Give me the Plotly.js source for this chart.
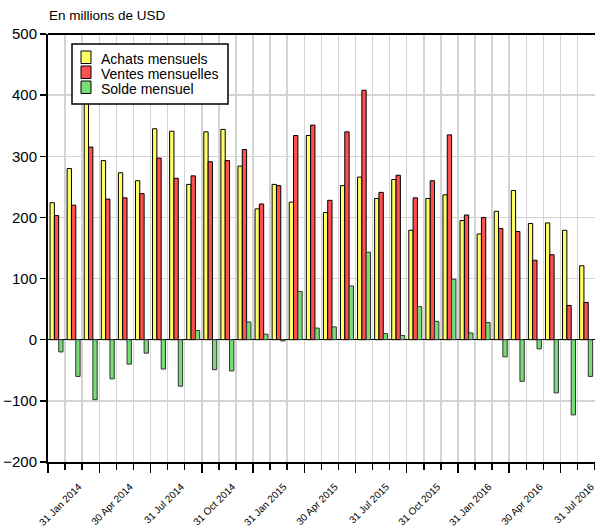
<!DOCTYPE html>
<html>
<head>
<meta charset="utf-8">
<script src="https://cdn.plot.ly/plotly-3.0.1.min.js"></script>
<style>html,body{margin:0;padding:0;background:#fff;overflow:hidden}#chart{width:595px;height:531px}</style>
</head>
<body>
<div id="chart"></div>
<script>
// Months Dec 2013 .. Jul 2016 (32 monthly observations)
const months = ["Dec 2013","Jan 2014","Feb 2014","Mar 2014","Apr 2014","May 2014","Jun 2014","Jul 2014","Aug 2014","Sep 2014","Oct 2014","Nov 2014",
  "Dec 2014","Jan 2015","Feb 2015","Mar 2015","Apr 2015","May 2015","Jun 2015","Jul 2015","Aug 2015","Sep 2015","Oct 2015","Nov 2015",
  "Dec 2015","Jan 2016","Feb 2016","Mar 2016","Apr 2016","May 2016","Jun 2016","Jul 2016"];
const achats = [224,280,414,293,273,260,345,341,254,340,344,284,
  214,254,225,334,208,252,266,231,262,179,231,237,195,173,210,244,190,191,179,121];
const ventes = [203,220,315,230,232,239,297,264,268,291,293,311,
  222,252,334,351,228,340,408,241,269,232,260,335,204,200,182,177,130,139,56,61];
const solde = [-20,-60,-98,-64,-40,-22,-48,-76,15,-49,-51,29,
  9,-2,79,19,21,88,143,10,7,54,30,99,11,28,-28,-68,-15,-87,-123,-60];
const seriesNames = ["Achats mensuels","Ventes mensuelles","Solde mensuel"];
const seriesColors = ["#FFFF66","#FF5050","#77DD77"];
const tickLabels = ["31 Jan 2014","30 Apr 2014","31 Jul 2014","31 Oct 2014","31 Jan 2015","30 Apr 2015",
  "31 Jul 2015","31 Oct 2015","31 Jan 2016","30 Apr 2016","31 Jul 2016"];
const tickMonths = ["Jan 2014","Apr 2014","Jul 2014","Oct 2014","Jan 2015","Apr 2015",
  "Jul 2015","Oct 2015","Jan 2016","Apr 2016","Jul 2016"];

const xs = months.map((m,i)=>i);
// labels sit just before the end-of-month boundary of the labelled month
const tickPos = tickMonths.map(m => months.indexOf(m) + 0.3);
const longTicks = [];
for (let i = 0; i <= months.length; i += 3) longTicks.push(i - 0.5);

const FONT = "Liberation Sans, Arial, sans-serif";
const W = 595, H = 531, ML = 48, MR = 0, MT = 34, MB = 69;
const PW = W - ML - MR, PH = H - MT - MB;
const px = v => (v - ML) / PW;          // pixel -> paper x
const py = v => (H - MB - v) / PH;      // pixel -> paper y

const traces = [
  {type:'bar', name:seriesNames[0], x:xs, y:achats, marker:{color:seriesColors[0], line:{color:'#000', width:1}}},
  {type:'bar', name:seriesNames[1], x:xs, y:ventes, marker:{color:seriesColors[1], line:{color:'#000', width:1}}},
  {type:'bar', name:seriesNames[2], x:xs, y:solde, marker:{color:seriesColors[2], line:{color:'#333', width:1}}},
  {type:'scatter', x:[0], y:[0], xaxis:'x2', mode:'markers', marker:{opacity:0}, showlegend:false, hoverinfo:'skip'}
];

// legend drawn as a framed box with swatches and real text
const shapes = [
  {type:'line', xref:'paper', yref:'paper', x0:0, x1:1, y0:1, y1:1, line:{color:'#000', width:2}},
  {type:'rect', xref:'paper', yref:'paper', x0:px(72), x1:px(228), y0:py(104), y1:py(44),
   fillcolor:'#fff', line:{color:'#000', width:1.5}, layer:'above'}
];
const annotations = [
  {text:'En millions de USD', xref:'paper', yref:'paper', x:px(47), y:py(15.5), xanchor:'left', yanchor:'middle',
    align:'left', showarrow:false, font:{family:'Liberation Sans', size:13.5, color:'#000'}}
];
const rowTop = [51, 66, 81];
seriesNames.forEach((name, i) => {
  shapes.push({type:'rect', xref:'paper', yref:'paper', x0:px(81), x1:px(91), y0:py(rowTop[i]+12.5), y1:py(rowTop[i]),
    fillcolor:seriesColors[i], line:{color:'#000', width:1}, layer:'above'});
  annotations.push({text:name, xref:'paper', yref:'paper', x:px(99), y:py(rowTop[i]+8), xanchor:'left', yanchor:'middle',
    showarrow:false, font:{family:FONT, size:14, color:'#000'}});
});

const layout = {
  width:W, height:H,
  margin:{l:ML, r:MR, t:MT, b:MB},
  paper_bgcolor:'#fff', plot_bgcolor:'#fff',
  barmode:'group', bargap:0.24, bargroupgap:0,
  font:{family:FONT, color:'#000'},
  showlegend:false,
  xaxis:{
    range:[-0.5, 31.52], showline:true, linecolor:'#000', linewidth:2, zeroline:false,
    tickmode:'array', tickvals:tickPos, ticktext:tickLabels, tickangle:-45,
    ticks:'', ticklabeloverflow:'allow',
    tickfont:{family:FONT, size:10, color:'#000'}, ticklabelstandoff:13,
    showgrid:false,
    minor:{tickmode:'linear', tick0:0.5, dtick:1, ticks:'outside', ticklen:6, tickcolor:'#000', tickwidth:1.5,
      showgrid:true, gridcolor:'#d4d4d4', gridwidth:1.5},
    fixedrange:true
  },
  xaxis2:{
    overlaying:'x', anchor:'y', side:'bottom', range:[-0.5, 31.52],
    tickmode:'array', tickvals:longTicks, ticks:'outside', ticklen:10, tickcolor:'#000', tickwidth:1.5,
    showticklabels:false, showgrid:false, zeroline:false, showline:false
  },
  yaxis:{
    range:[-200, 500], tickmode:'linear', tick0:-200, dtick:100,
    showline:true, linecolor:'#000', linewidth:2,
    ticks:'outside', ticklen:6, tickcolor:'#000', tickwidth:1.5,
    tickfont:{family:FONT, size:15, color:'#000'},
    showgrid:true, gridcolor:'#d4d4d4', gridwidth:1.5,
    zeroline:true, zerolinecolor:'#000', zerolinewidth:1.5,
    fixedrange:true
  },
  shapes:shapes,
  annotations:annotations
};

Plotly.newPlot('chart', traces, layout, {displayModeBar:false, staticPlot:true});
</script>
</body>
</html>
